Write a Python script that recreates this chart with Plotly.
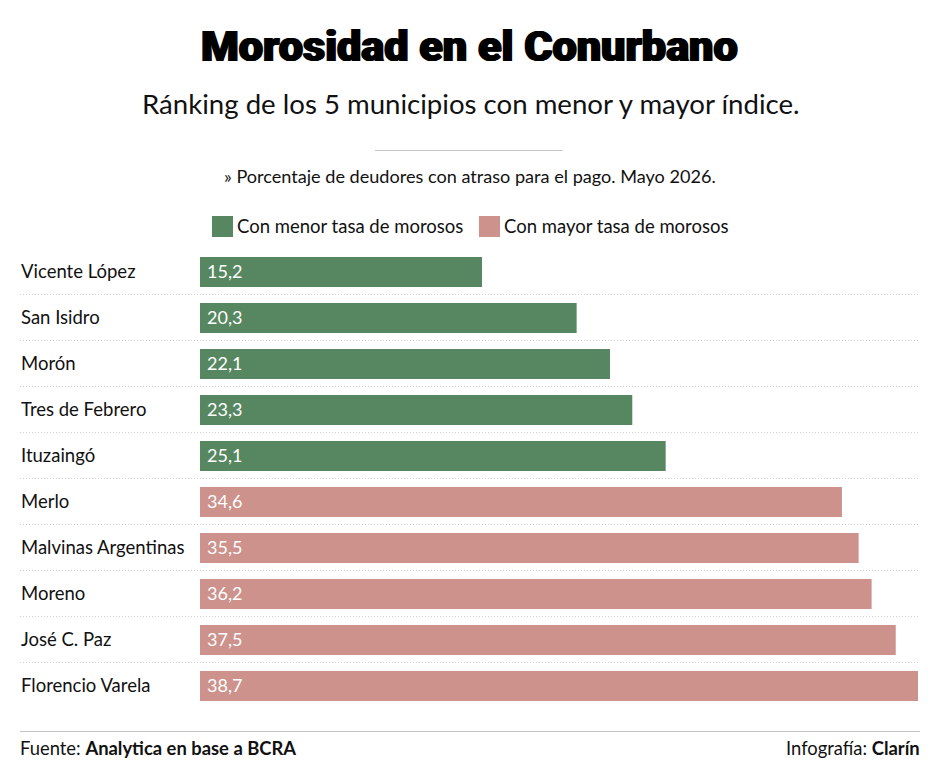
import plotly.graph_objects as go

municipios = ["Vicente López", "San Isidro", "Morón", "Tres de Febrero", "Ituzaingó",
              "Merlo", "Malvinas Argentinas", "Moreno", "José C. Paz", "Florencio Varela"]
valores = [15.2, 20.3, 22.1, 23.3, 25.1, 34.6, 35.5, 36.2, 37.5, 38.7]
etiquetas = ["15,2", "20,3", "22,1", "23,3", "25,1", "34,6", "35,5", "36,2", "37,5", "38,7"]

VERDE = "#578760"
ROSA = "#cc928b"
FONT = "Lato"
TINTA = "#111111"

# la pagina deja 8px de margen en el body, las medidas de abajo son de la imagen
OFF = 8
W, H = 922, 768
LEFT, RIGHT, TOP, BOTTOM = 200, 918, 249, 709


def px(x):
    return (x - LEFT) / (RIGHT - LEFT)


def py(y):
    return (BOTTOM - y) / (BOTTOM - TOP)


fig = go.Figure()

fig.add_trace(go.Bar(
    y=municipios[:5], x=valores[:5], orientation="h",
    marker_color=VERDE, marker_line_width=0, name="Con menor tasa de morosos",
))
fig.add_trace(go.Bar(
    y=municipios[5:], x=valores[5:], orientation="h",
    marker_color=ROSA, marker_line_width=0, name="Con mayor tasa de morosos",
))

fig.update_layout(
    width=W, height=H, autosize=False,
    paper_bgcolor="white", plot_bgcolor="white",
    font=dict(family=FONT, color=TINTA),
    margin=dict(l=LEFT - OFF, r=W - (RIGHT - OFF), t=TOP - OFF, b=H - (BOTTOM - OFF), pad=0),
    barmode="overlay", bargap=0.348, showlegend=False,
)
fig.update_xaxes(visible=False, range=[0, 38.7], fixedrange=True)
fig.update_yaxes(
    categoryorder="array", categoryarray=municipios, autorange="reversed",
    showgrid=False, zeroline=False, showline=False, ticks="",
    showticklabels=False, fixedrange=True,
)


def texto(x, y, s, size, anchor="left", **extra):
    f = dict(size=size, color=TINTA, family=FONT)
    f.update(extra)
    fig.add_annotation(xref="paper", yref="paper", x=px(x), y=py(y), text=s,
                       showarrow=False, xanchor=anchor, yanchor="middle",
                       font=f, align=anchor)


def linea(x0, x1, y, color, dash="solid"):
    fig.add_shape(type="line", xref="paper", yref="paper", x0=px(x0), x1=px(x1),
                  y0=py(y), y1=py(y), line=dict(color=color, width=1, dash=dash))


def cuadro(x0, x1, y0, y1, color):
    fig.add_shape(type="rect", xref="paper", yref="paper", x0=px(x0), x1=px(x1),
                  y0=py(y1), y1=py(y0), fillcolor=color, line_width=0)


# nombres, valores y separadores por fila
for i, m in enumerate(municipios):
    fig.add_annotation(xref="paper", yref="y", x=px(19), y=m, yshift=1, text=m, showarrow=False,
                       xanchor="left", yanchor="middle",
                       font=dict(size=18.5, color=TINTA, family=FONT))
    fig.add_annotation(xref="x", yref="y", x=0, y=m, xshift=5, yshift=1, text=etiquetas[i], showarrow=False,
                       xanchor="left", yanchor="middle",
                       font=dict(size=18, color="white", family=FONT))
    if i < 9:
        linea(20, 918, TOP + 46 * (i + 1) - 0.5, "#cfcfcf", "1px,2px")

texto(469.5, 46, "Morosidad en el Conurbano", 43.2, "center", family="Roboto", weight=900,
      color="#000000", shadow="1px 0 0 #000, -1px 0 0 #000")
texto(470.5, 103, "Ránking de los 5 municipios con menor y mayor índice.", 27.6, "center")
linea(375, 563, 150.5, "#c8c8c8")
texto(470, 176, "» Porcentaje de deudores con atraso para el pago. Mayo 2026.", 18.1, "center")

# leyenda
cuadro(212, 233, 216, 237, VERDE)
texto(235, 225.5, "Con menor tasa de morosos", 18.5)
cuadro(479, 500, 216, 237, ROSA)
texto(502, 225.5, "Con mayor tasa de morosos", 18.5)

# pie
linea(20, 920, 731.5, "#c4c4c4")
texto(18, 747.5, "Fuente: <b>Analytica en base a BCRA</b>", 18.4)
texto(922, 747.5, "Infografía: <b>Clarín</b>", 18.4, "right")

fig.write_html("out.html")
